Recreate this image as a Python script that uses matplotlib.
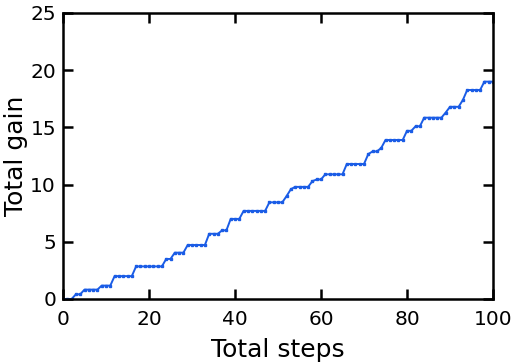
import matplotlib
matplotlib.use("Agg")
import matplotlib.pyplot as plt
import numpy as np

steps = list(range(0, 101))
gain = [
    0, 0, 0, 0.41, 0.41, 0.82, 0.82, 0.82, 0.82, 1.17,
    1.17, 1.17, 2.0, 2.0, 2.0, 2.0, 2.0, 2.85, 2.85, 2.85,
    2.85, 2.85, 2.85, 2.85, 3.5, 3.5, 4.05, 4.05, 4.05, 4.72,
    4.72, 4.72, 4.72, 4.72, 5.7, 5.7, 5.7, 6.0, 6.0, 7.0,
    7.0, 7.0, 7.7, 7.7, 7.7, 7.7, 7.7, 7.7, 8.45, 8.45,
    8.45, 8.45, 9.0, 9.6, 9.8, 9.8, 9.8, 9.8, 10.3, 10.45,
    10.45, 10.9, 10.9, 10.9, 10.9, 10.9, 11.8, 11.8, 11.8, 11.8,
    11.8, 12.67, 12.9, 12.9, 13.2, 13.9, 13.9, 13.9, 13.9, 13.9,
    14.7, 14.7, 15.1, 15.1, 15.85, 15.85, 15.85, 15.85, 15.85, 16.3,
    16.8, 16.8, 16.8, 17.4, 18.27, 18.27, 18.27, 18.27, 19.0, 19.0,
    19.0,
]
xticks = [0, 20, 40, 60, 80, 100]
yticks = [0, 5, 10, 15, 20, 25]

plt.rcParams['font.family'] = ['DejaVu Sans']
fig = plt.figure(figsize=(5.12, 3.64), dpi=100)
ax = fig.add_axes([63/512, 1-299/364, (493-63)/512, (299-13)/364])
ax.plot(steps, gain, color='#1a5ce6', linewidth=1.4, marker='s', markersize=1.8)
ax.set_xlim(0, 100)
ax.set_ylim(0, 25)
ax.set_xticks(xticks)
ax.set_yticks(yticks)
ax.tick_params(direction='in', length=7, width=1.8, labelsize=14.5,
               top=True, right=True)
ax.tick_params(axis='x', pad=8)
ax.tick_params(axis='y', pad=5)
for s in ax.spines.values():
    s.set_linewidth(1.8)
ax.set_xlabel('Total steps', fontsize=18)
ax.set_ylabel('Total gain', fontsize=18)
ax.xaxis.set_label_coords(0.5, (299-350)/286)
ax.xaxis.label.set_va('center')
ax.yaxis.set_label_coords((16-63)/430, 0.5)
ax.yaxis.label.set_va('center')
fig.savefig('out.png', dpi=100)
